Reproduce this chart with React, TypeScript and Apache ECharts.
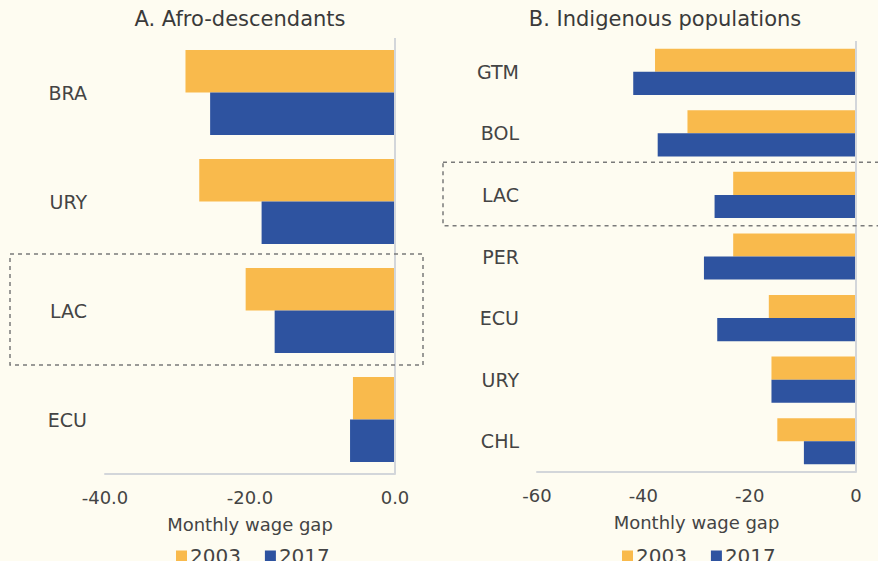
import React, { useEffect, useRef } from "react";
import * as echarts from "echarts";

const categoriesA = ["BRA", "URY", "LAC", "ECU"];
const afro2003 = [-28.9, -27.0, -20.6, -5.8];
const afro2017 = [-25.5, -18.4, -16.6, -6.2];

const categoriesB = ["GTM", "BOL", "LAC", "PER", "ECU", "URY", "CHL"];
const indig2003 = [-37.8, -31.7, -23.1, -23.1, -16.4, -15.9, -14.8];
const indig2017 = [-41.9, -37.3, -26.6, -28.6, -26.1, -15.9, -9.8];

const years = ["2003", "2017"];
const titles = ["A. Afro-descendants", "B. Indigenous populations"];
const axisName = "Monthly wage gap";

const YELLOW = "#F9BA4C";
const BLUE = "#2E53A0";
const TEXT = "#444444";
const FONT = "DejaVu Sans";
const AXIS_LINE = "#d3d6da";

export default function App() {
  const ref = useRef<HTMLDivElement>(null);
  useEffect(() => {
    if (!ref.current) return;
    const chart = echarts.init(ref.current, null, { renderer: "svg" });
    const zeroLine = {
      silent: true,
      symbol: "none",
      label: { show: false },
      lineStyle: { color: AXIS_LINE, width: 2, type: "solid" },
      data: [{ xAxis: 0 }],
    };
    const xAxisBase = {
      type: "value",
      max: 0,
      interval: 20,
      nameLocation: "middle",
      name: axisName,
      nameGap: 41,
      nameTextStyle: { fontFamily: FONT, fontSize: 18, color: TEXT },
      axisLine: { show: true, onZero: false, lineStyle: { color: AXIS_LINE, width: 2 } },
      axisTick: { show: false },
      splitLine: { show: false },
      axisLabel: { fontFamily: FONT, fontSize: 18, color: TEXT, margin: 14 },
    };
    const yAxisBase = {
      type: "category",
      inverse: true,
      axisLine: { show: false, onZero: false },
      axisTick: { show: false },
      axisLabel: { fontFamily: FONT, fontSize: 19, color: TEXT, margin: 18 },
    };
    const titleStyle = { fontFamily: FONT, fontSize: 21, fontWeight: "normal", color: "#3a3a3a" };
    const legendBase = {
      data: years,
      top: 541,
      icon: "rect",
      itemWidth: 11,
      itemHeight: 11,
      itemGap: 24,
      textStyle: { fontFamily: FONT, fontSize: 20, color: TEXT, padding: [0, 0, 0, -2] },
    };
    const option: any = {
      animation: false,
      backgroundColor: "#FEFCF1",
      title: [
        { text: titles[0], left: 235, top: 3, textAlign: "center", textStyle: titleStyle },
        { text: titles[1], left: 660, top: 3, textAlign: "center", textStyle: titleStyle },
      ],
      legend: [
        { ...legendBase, left: 171 },
        { ...legendBase, left: 617 },
      ],
      grid: [
        { left: 105, right: 483, top: 38, bottom: 87 },
        { left: 537, right: 22, top: 41, bottom: 89 },
      ],
      xAxis: [
        {
          ...xAxisBase,
          gridIndex: 0,
          min: -40,
          axisLabel: { ...xAxisBase.axisLabel, formatter: (v: number) => v.toFixed(1) },
        },
        { ...xAxisBase, gridIndex: 1, min: -60 },
      ],
      yAxis: [
        { ...yAxisBase, gridIndex: 0, data: categoriesA },
        { ...yAxisBase, gridIndex: 1, data: categoriesB },
      ],
      series: [
        {
          name: years[0],
          type: "bar",
          xAxisIndex: 0,
          yAxisIndex: 0,
          data: afro2003,
          itemStyle: { color: YELLOW },
          barGap: "0%",
          barCategoryGap: "22%",
        },
        {
          name: years[1],
          type: "bar",
          xAxisIndex: 0,
          yAxisIndex: 0,
          data: afro2017,
          itemStyle: { color: BLUE },
          barGap: "0%",
          barCategoryGap: "22%",
          markLine: zeroLine,
        },
        {
          name: years[0],
          type: "bar",
          xAxisIndex: 1,
          yAxisIndex: 1,
          data: indig2003,
          itemStyle: { color: YELLOW },
          barGap: "0%",
          barCategoryGap: "25%",
        },
        {
          name: years[1],
          type: "bar",
          xAxisIndex: 1,
          yAxisIndex: 1,
          data: indig2017,
          itemStyle: { color: BLUE },
          barGap: "0%",
          barCategoryGap: "25%",
          markLine: zeroLine,
        },
      ],
    };
    chart.setOption(option);

    // dashed highlight boxes around LAC rows
    const boxFor = (idx: number, cats: string[], left: number, rightExtra: number) => {
      const yc = chart.convertToPixel({ yAxisIndex: idx }, "LAC") as number;
      const y0 = chart.convertToPixel({ yAxisIndex: idx }, cats[0]) as number;
      const y1 = chart.convertToPixel({ yAxisIndex: idx }, cats[1]) as number;
      const band = Math.abs(y1 - y0);
      const xz = chart.convertToPixel({ xAxisIndex: idx }, 0) as number;
      return {
        type: "rect",
        silent: true,
        z: 100,
        shape: { x: left, y: yc - band / 2 - 2, width: xz + rightExtra - left, height: band + 2 },
        style: { fill: "none", stroke: "#7a7a7a", lineWidth: 1.5, lineDash: [4, 4] },
      };
    };
    chart.setOption({
      graphic: [boxFor(0, categoriesA, 10, 28), boxFor(1, categoriesB, 443, 30)],
    });

    return () => chart.dispose();
  }, []);
  return (
    <div
      ref={ref}
      style={{ position: "fixed", left: 0, top: 0, width: 878, height: 561 }}
    />
  );
}
